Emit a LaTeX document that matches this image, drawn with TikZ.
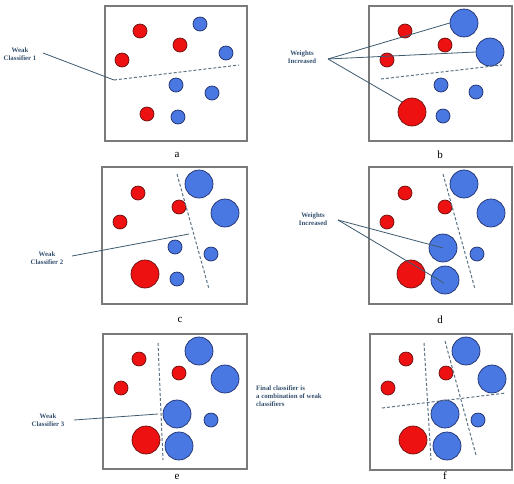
\documentclass[tikz,border=0pt]{standalone}
\usepackage{fontspec}
\setmainfont{Liberation Serif}
\definecolor{redfill}{HTML}{EE1111}
\definecolor{redline}{HTML}{6A1010}
\definecolor{bluefill}{HTML}{4A78E2}
\definecolor{blueline}{HTML}{1E2F6A}
\definecolor{slate}{HTML}{3E5A6E}
\definecolor{txt}{HTML}{34506E}
\definecolor{frame}{HTML}{7A7A7A}
\begin{document}
\begin{tikzpicture}[x=1pt,y=-1pt,
  panel/.style={draw=frame, line width=1.6pt},
  dot/.style={circle, inner sep=0pt, line width=0.7pt},
  rs/.style={dot, fill=redfill, draw=redline, minimum size=14pt},
  rb/.style={dot, fill=redfill, draw=redline, minimum size=28pt},
  bs/.style={dot, fill=bluefill, draw=blueline, minimum size=14pt},
  bb/.style={dot, fill=bluefill, draw=blueline, minimum size=28pt},
  sep/.style={draw=slate!85, line width=1pt, dash pattern=on 3pt off 2pt},
  lbl/.style={font=\fontsize{6.8}{8}\selectfont\bfseries, text=txt, align=center, inner sep=1pt},
  conn/.style={draw=slate, line width=0.8pt},
  panelcap/.style={font=\fontsize{11}{12}\selectfont}
]
\useasboundingbox (0,0) rectangle (514,483);
\fill[white] (0,0) rectangle (514,483);

% ---------------- panel a
\draw[panel] (105,6) rectangle (247,141);
\node[rs] (a1) at (140,31) {};
\node[rs] (a2) at (180,45) {};
\node[rs] (a3) at (122,60) {};
\node[bs] (a4) at (200,24) {};
\node[bs] (a5) at (226,53) {};
\node[bs] (a6) at (176,85) {};
\node[bs] (a7) at (212,93) {};
\node[rs] (a8) at (147,114) {};
\node[bs] (a9) at (178,117) {};
\coordinate (aL1) at (114,80);
\coordinate (aL2) at (239,65);
\draw[sep] (aL1) -- (aL2);
\node[lbl] (ta) at (20,54) {Weak\\Classifier 1};
\draw[conn] (43,53) -- (aL1);
\node[panelcap] (ca) at (177,155) {a};

% ---------------- panel b
\draw[panel] (369,6) rectangle (512,141);
\node[bb] (b1) at (464,23) {};
\node[bb] (b2) at (490,52) {};
\node[rs] (b3) at (405,31) {};
\node[rs] (b4) at (445,45) {};
\node[rs] (b5) at (387,60) {};
\node[bs] (b6) at (441,85) {};
\node[bs] (b7) at (476,92) {};
\node[rb] (b8) at (412,112) {};
\node[bs] (b9) at (443,116) {};
\coordinate (bL1) at (381,79);
\coordinate (bL2) at (502,65);
\draw[sep] (bL1) -- (bL2);
\node[lbl] (tb) at (302,57) {Weights\\Increased};
\coordinate (bo) at (328,59);
\draw[conn] (bo) -- (b1.west);
\draw[conn] (bo) -- (b2.west);
\draw[conn] (bo) -- (b8.north west);
\node[panelcap] (cb) at (440,155) {b};

% ---------------- panel c
\draw[panel] (102,167) rectangle (247,304);
\node[bb] (c1) at (199,184) {};
\node[bb] (c2) at (225,213) {};
\node[rs] (c3) at (138,193) {};
\node[rs] (c4) at (179,207) {};
\node[rs] (c5) at (120,222) {};
\node[bs] (c6) at (175,247) {};
\node[bs] (c7) at (211,254) {};
\node[rb] (c8) at (145,274) {};
\node[bs] (c9) at (177,279) {};
\coordinate (cL1) at (177,174);
\coordinate (cL2) at (209,289);
\draw[sep] (cL1) -- (cL2);
\node[lbl] (tc) at (47,258) {Weak\\Classifier 2};
\coordinate (ce) at (189,234);
\draw[conn] (72,256) -- (ce);
\node[panelcap] (cc) at (180,320) {c};

% ---------------- panel d
\draw[panel] (369,167) rectangle (512,304);
\node[bb] (d1) at (464,184) {};
\node[bb] (d2) at (491,213) {};
\node[rs] (d3) at (405,193) {};
\node[rs] (d4) at (445,207) {};
\node[rs] (d5) at (387,222) {};
\node[bb] (d6) at (443,248) {};
\node[bs] (d7) at (477,254) {};
\node[rb] (d8) at (411,274) {};
\node[bb] (d9) at (445,280) {};
\coordinate (dL1) at (443,174);
\coordinate (dL2) at (475,289);
\draw[sep] (dL1) -- (dL2);
\node[lbl] (td) at (313,219) {Weights\\Increased};
\coordinate (do) at (338,220);
\draw[conn] (do) -- (d6.center);
\draw[conn] (do) -- (444,283);
\node[panelcap] (cd) at (440,320) {d};

% ---------------- panel e
\draw[panel] (103,334) rectangle (247,469);
\node[bb] (e1) at (199,351) {};
\node[bb] (e2) at (225,379) {};
\node[rs] (e3) at (139,359) {};
\node[rs] (e4) at (179,373) {};
\node[rs] (e5) at (121,388) {};
\node[bb] (e6) at (177,414) {};
\node[bs] (e7) at (211,420) {};
\node[rb] (e8) at (146,440) {};
\node[bb] (e9) at (179,446) {};
\coordinate (eL1) at (158,343);
\coordinate (eL2) at (163,460);
\draw[sep] (eL1) -- (eL2);
\node[lbl] (te) at (48,420) {Weak\\Classifier 3};
\draw[conn] (74,420) -- (158,414);
\node[panelcap, anchor=base, inner sep=0pt] (ce2) at (177,479) {e};

% ---------------- panel f
\draw[panel] (370,334) rectangle (512,470);
\node[bb] (f1) at (466,351) {};
\node[bb] (f2) at (492,379) {};
\node[rs] (f3) at (406,359) {};
\node[rs] (f4) at (446,373) {};
\node[rs] (f5) at (388,388) {};
\node[bb] (f6) at (445,414) {};
\node[bs] (f7) at (478,420) {};
\node[rb] (f8) at (413,440) {};
\node[bb] (f9) at (447,446) {};
\coordinate (fA1) at (424,343);
\coordinate (fA2) at (431,460);
\coordinate (fB1) at (445,341);
\coordinate (fB2) at (476,455);
\coordinate (fC1) at (382,408);
\coordinate (fC2) at (506,393);
\draw[sep] (fA1) -- (fA2);
\draw[sep] (fB1) -- (fB2);
\draw[sep] (fC1) -- (fC2);
\node[lbl, align=left, anchor=north west] (tf) at (255,385) {Final classifier is\\a combination of weak\\classifiers};
\node[panelcap, anchor=base, inner sep=0pt] (cf) at (445,479) {f};
\end{tikzpicture}
\end{document}
